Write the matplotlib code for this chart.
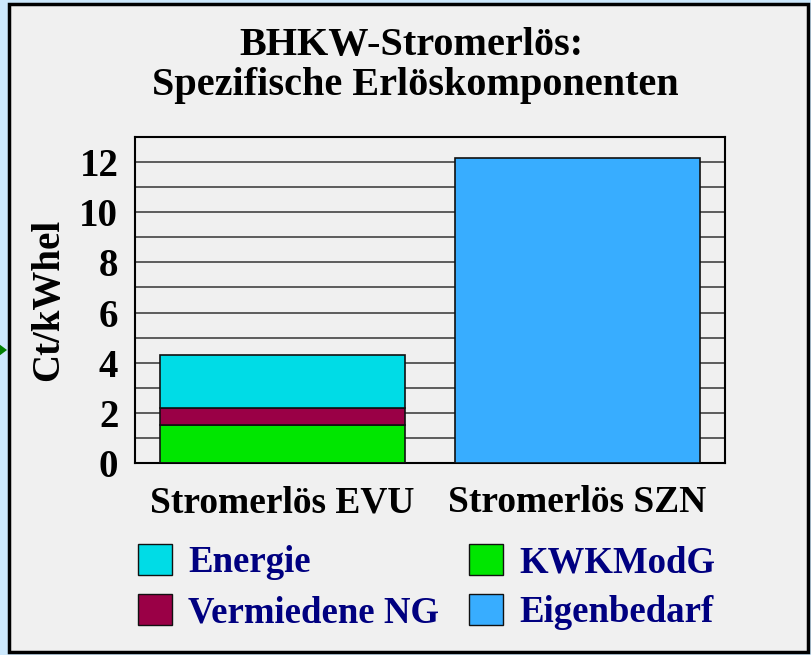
import numpy as np
import matplotlib.pyplot as plt
from matplotlib.patches import Rectangle, Polygon

# data (Ct/kWhel)
categories = ['Stromerlös EVU', 'Stromerlös SZN']
kwkmodg = [1.5, 0.0]
vermiedene_ng = [0.7, 0.0]
energie = [2.1, 0.0]
eigenbedarf = [0.0, 12.15]
yticks = [0, 2, 4, 6, 8, 10, 12]

serif = 'Liberation Serif'
navy = '#000080'

fig = plt.figure(figsize=(8.12, 6.55), dpi=100, facecolor='#CCE8FC')
fig.patches.append(Rectangle((9 / 812, 3 / 655), 799 / 812, 648 / 655,
                             transform=fig.transFigure, facecolor='#F0F0F0',
                             edgecolor='black', linewidth=2.5, zorder=-5))
# small green marker at the left edge
yc = 1 - 350 / 655
fig.patches.append(Polygon([(0, yc + 0.008), (0, yc - 0.008), (7 / 812, yc)],
                           closed=True, transform=fig.transFigure,
                           facecolor='#008000', edgecolor='none', zorder=-4))

ax = fig.add_axes([135 / 812, 1 - 463 / 655, 590 / 812, 326 / 655])
ax.set_facecolor('#F0F0F0')
x = np.arange(len(categories))
w = 0.83
bot1 = np.array(kwkmodg)
bot2 = bot1 + np.array(vermiedene_ng)
ax.bar(x, kwkmodg, w, color='#00E600', edgecolor='#111111', linewidth=1.2, zorder=3)
ax.bar(x, vermiedene_ng, w, bottom=bot1, color='#9A0046', edgecolor='#111111', linewidth=1.2, zorder=3)
ax.bar(x, energie, w, bottom=bot2, color='#00DCE6', edgecolor='#111111', linewidth=1.2, zorder=3)
ax.bar(x, eigenbedarf, w, color='#38ADFF', edgecolor='#111111', linewidth=1.2, zorder=3)

ax.set_xlim(-0.5, 1.5)
ax.set_ylim(0, 13)
ax.set_yticks(yticks)
ax.set_yticks(np.arange(0, 13, 1), minor=True)
ax.grid(axis='y', which='both', color='#333333', linewidth=1.1, zorder=1)
ax.tick_params(length=0, which='both')
ax.tick_params(axis='y', pad=12)
ax.tick_params(axis='x', pad=16)
ax.set_xticks(x)
ax.set_xticklabels(categories, fontsize=27, fontweight='bold', family=serif)
for lab in ax.get_yticklabels():
    lab.set_fontsize(28)
    lab.set_fontweight('bold')
    lab.set_family(serif)
for s in ax.spines.values():
    s.set_linewidth(1.5)
ax.set_ylabel('Ct/kWhel', fontsize=28, fontweight='bold', family=serif, labelpad=9)

fig.text(0.507, 1 - 45 / 655, 'BHKW-Stromerlös:', ha='center', va='center',
         fontsize=29, fontweight='bold', family=serif)
fig.text(0.512, 1 - 86 / 655, 'Spezifische Erlöskomponenten', ha='center', va='center',
         fontsize=29, fontweight='bold', family=serif)

handles = [Rectangle((0, 0), 1, 1, facecolor='#00DCE6', edgecolor='#111111'),
           Rectangle((0, 0), 1, 1, facecolor='#9A0046', edgecolor='#111111'),
           Rectangle((0, 0), 1, 1, facecolor='#00E600', edgecolor='#111111'),
           Rectangle((0, 0), 1, 1, facecolor='#38ADFF', edgecolor='#111111')]
labels = ['Energie', 'Vermiedene NG', 'KWKModG', 'Eigenbedarf']
leg = fig.legend(handles, labels, ncol=2, loc='upper left',
                 bbox_to_anchor=(138 / 812, 1 - 544 / 655), frameon=False,
                 borderpad=0, borderaxespad=0,
                 prop={'family': serif, 'weight': 'bold', 'size': 26.5},
                 handlelength=0.92, handleheight=0.92, handletextpad=0.45,
                 columnspacing=0.8, labelspacing=0.38)
for t in leg.get_texts():
    t.set_color(navy)

fig.savefig('out.png', dpi=100, facecolor=fig.get_facecolor())
